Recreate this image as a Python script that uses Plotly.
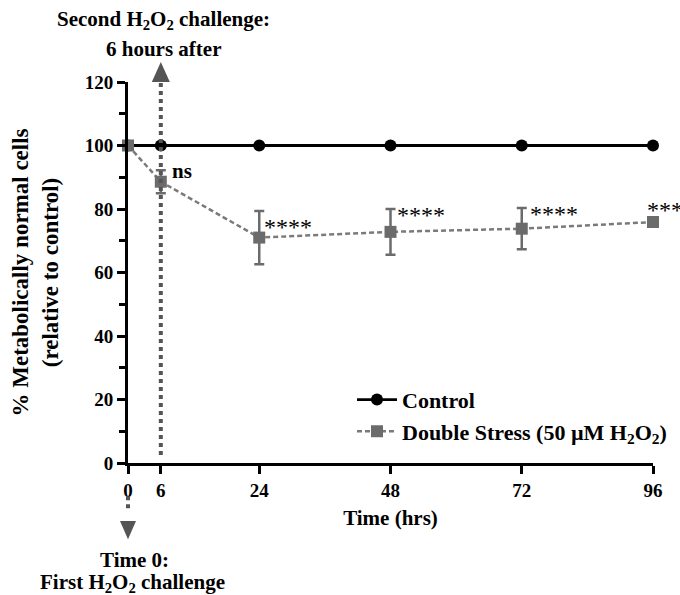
import plotly.graph_objects as go

# Time points (hours) and measurements
hours = [0, 6, 24, 48, 72, 96]
control = [100, 100, 100, 100, 100, 100]
double_stress = [100, 88.6, 71.0, 72.8, 73.8, 75.9]
double_stress_err = [0, 3.6, 8.4, 7.2, 6.5, 1.5]

# Significance versus control and where each label sits (y value, pixel shift to the right)
significance = ["", "ns", "****", "****", "****", "***"]
sig_label_y = [None, 92.0, 75.3, 79.1, 79.4, 80.7]
sig_label_dx = [0, 9, 3, 4, 6, -8]

x_tick_vals = [0, 6, 24, 48, 72, 96]
y_tick_vals = [0, 20, 40, 60, 80, 100, 120]
X_RANGE = [0, 96]
Y_RANGE = [0, 120]

FONT = "'Times New Roman', 'Liberation Serif', serif"
ARROW_GREY = "#555555"
SERIES_GREY = "#6b6b6b"
PLOT_W = 525  # plot area width in px


def px(xv):
    return (xv - X_RANGE[0]) / (X_RANGE[1] - X_RANGE[0])


def py(yv):
    return (yv - Y_RANGE[0]) / (Y_RANGE[1] - Y_RANGE[0])


fig = go.Figure()

fig.add_trace(go.Scatter(
    x=hours, y=control, name="<b>Control</b>",
    mode="lines+markers",
    line=dict(color="black", width=2.8),
    marker=dict(symbol="circle", size=12, color="black"),
    cliponaxis=False,
))

fig.add_trace(go.Scatter(
    x=hours, y=double_stress,
    name="<b>Double Stress (50 \u00b5M H<sub>2</sub>O<sub>2</sub>)</b>",
    mode="lines+markers",
    line=dict(color="#7a7a7a", width=2.5, dash="5px,3px"),
    marker=dict(symbol="square", size=12, color=SERIES_GREY),
    error_y=dict(type="data", array=double_stress_err, color=SERIES_GREY,
                 thickness=2.5, width=5),
    cliponaxis=False,
))

# Second challenge marker: dotted line at 6 h with an upward arrowhead
fig.add_shape(type="line", xref="paper", yref="paper",
              x0=px(6), x1=px(6), y0=py(2.5), y1=py(120.5),
              line=dict(color=ARROW_GREY, width=4, dash="dot"))
t_half = 9 / PLOT_W
fig.add_shape(type="path", xref="paper", yref="paper",
              path=f"M {px(6) - t_half} {py(120)} L {px(6) + t_half} {py(120)} "
                   f"L {px(6)} {py(126.3)} Z",
              fillcolor=ARROW_GREY, line=dict(width=0))

# First challenge marker: short dotted line below 0 h with a downward arrowhead
fig.add_shape(type="line", xref="paper", yref="paper",
              x0=px(0), x1=px(0), y0=py(-10.5), y1=py(-15.5),
              line=dict(color=ARROW_GREY, width=4, dash="dot"))
b_half = 8 / PLOT_W
fig.add_shape(type="path", xref="paper", yref="paper",
              path=f"M {px(0) - b_half} {py(-18.3)} L {px(0) + b_half} {py(-18.3)} "
                   f"L {px(0)} {py(-24)} Z",
              fillcolor=ARROW_GREY, line=dict(width=0))

note_font = dict(size=21)
annotations = [
    dict(text="<b>Second H<sub>2</sub>O<sub>2</sub> challenge:</b>", x=px(6.5), y=py(139.5)),
    dict(text="<b>6 hours after</b>", x=px(6.5), y=py(130.3)),
    dict(text="<b>Time 0:</b>", x=px(1.2), y=py(-30.6)),
    dict(text="<b>First H<sub>2</sub>O<sub>2</sub> challenge</b>", x=px(0.9), y=py(-37.8)),
]
for a in annotations:
    a.update(xref="paper", yref="paper", xanchor="center", yanchor="middle",
             showarrow=False, font=note_font)

# Significance labels next to each stressed point
for h, s, ly, dx in zip(hours, significance, sig_label_y, sig_label_dx):
    if not s:
        continue
    if s == "ns":
        annotations.append(dict(text="<b>ns</b>", x=h, y=ly, xref="x", yref="y",
                                xanchor="left", yanchor="middle", xshift=dx,
                                showarrow=False, font=dict(size=21)))
    else:
        annotations.append(dict(text=s, x=h, y=ly, xref="x", yref="y",
                                xanchor="left", yanchor="middle", xshift=dx, yshift=-3,
                                showarrow=False, font=dict(size=24)))

fig.update_layout(
    width=680, height=595,
    margin=dict(l=128, r=27, t=82, b=132, autoexpand=False),
    paper_bgcolor="white", plot_bgcolor="white",
    font=dict(family=FONT, color="black"),
    showlegend=True,
    legend=dict(x=(352 - 128) / PLOT_W, y=0.221, xanchor="left", yanchor="top",
                bgcolor="rgba(0,0,0,0)", font=dict(size=22),
                itemwidth=40, tracegroupgap=0),
    annotations=annotations,
)

fig.update_xaxes(
    range=X_RANGE, tickvals=x_tick_vals, ticktext=[f"<b>{v}</b>" for v in x_tick_vals],
    showline=True, linecolor="black", linewidth=3,
    ticks="outside", ticklen=8, tickwidth=3, tickcolor="black",
    tickfont=dict(size=19), showgrid=False, zeroline=False, automargin=False,
    title=dict(text="<b>Time (hrs)</b>", font=dict(size=21), standoff=11),
)

fig.update_yaxes(
    range=Y_RANGE, tickvals=y_tick_vals, ticktext=[f"<b>{v}</b>" for v in y_tick_vals],
    showline=True, linecolor="black", linewidth=3,
    ticks="outside", ticklen=8, tickwidth=3, tickcolor="black",
    tickfont=dict(size=19), showgrid=False, zeroline=False, automargin=False,
    minor=dict(dtick=10, ticks="outside", ticklen=6, tickwidth=3, tickcolor="black",
               showgrid=False),
    title=dict(text="<b>% Metabolically normal cells<br>(relative to control)</b>",
               font=dict(size=23), standoff=20),
)

fig.write_html("out.html")
